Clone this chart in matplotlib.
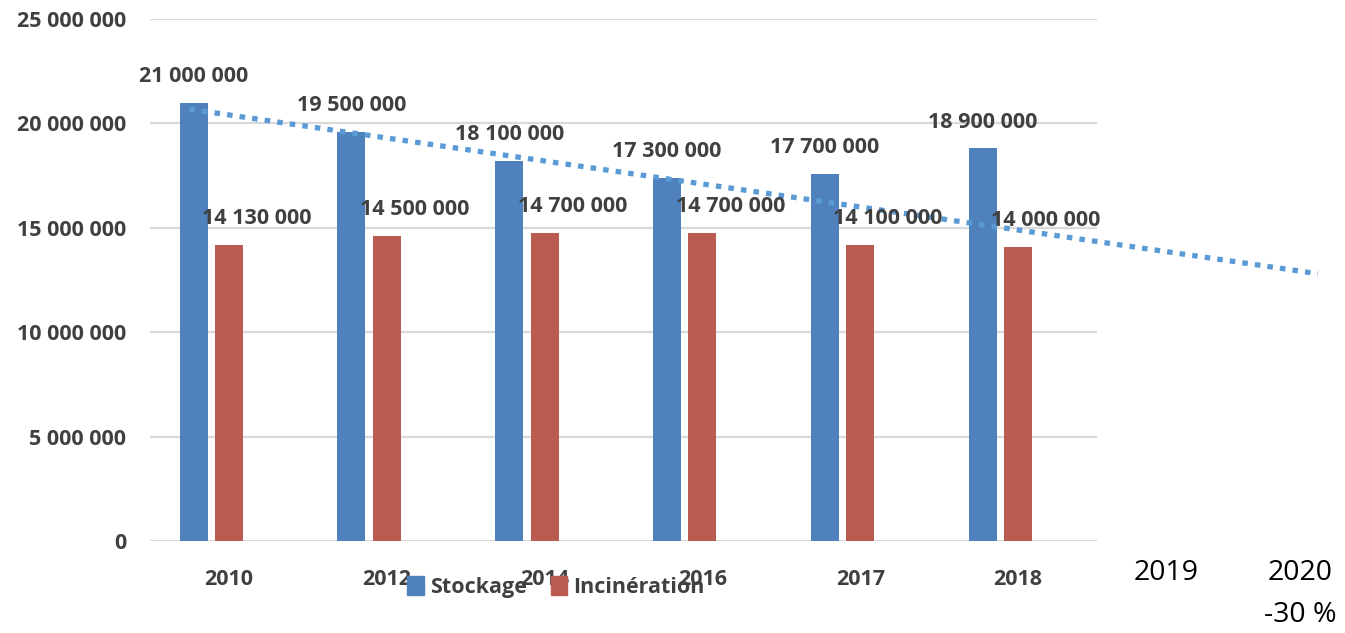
#!/usr/bin/env python3

import matplotlib
matplotlib.use("Agg")
import matplotlib.pyplot as plt
from matplotlib.patches import Patch

# ─── Data ──────────────────────────────────────────────────────────────────────
YEARS = ["2010", "2012", "2014", "2016", "2017", "2018"]

# bar heights
STOCKAGE     = [21_000_000, 19_600_000, 18_200_000, 17_400_000, 17_600_000, 18_800_000]
INCINERATION = [14_200_000, 14_600_000, 14_750_000, 14_750_000, 14_200_000, 14_100_000]

# data labels as printed on the chart
STOCKAGE_LABELS     = ["21 000 000", "19 500 000", "18 100 000",
                       "17 300 000", "17 700 000", "18 900 000"]
INCINERATION_LABELS = ["14 130 000", "14 500 000", "14 700 000",
                       "14 700 000", "14 100 000", "14 000 000"]

# dotted trend line (category index, value)
TREND_X = [-0.25, 6.9]
TREND_Y = [20_680_000, 12_800_000]

Y_TICKS = [0, 5_000_000, 10_000_000, 15_000_000, 20_000_000, 25_000_000]

# ─── Style ─────────────────────────────────────────────────────────────────────
BLUE  = "#4F81BD"
RED   = "#B95B50"
TREND = "#5B9BD5"
GREY  = "#404040"
GRID  = "#D9D9D9"
FONT  = ["Open Sans", "DejaVu Sans"]

plt.rcParams["font.family"] = FONT

W, H = 1345, 633
fig = plt.figure(figsize=(W / 100, H / 100), dpi=100)
ax = fig.add_axes([150 / W, 1 - 541 / H, (1097 - 150) / W, (541 - 19) / H])

x = list(range(len(YEARS)))
bw = 0.178
xs = [i - 0.224 for i in x]
xi = [i + 0.0 for i in x]

ax.bar(xs, STOCKAGE, width=bw, color=BLUE, zorder=3)
ax.bar(xi, INCINERATION, width=bw, color=RED, zorder=3)

lbl = dict(ha="center", va="center", fontsize=15.5, fontweight="bold",
           color=GREY, textcoords="offset points", zorder=5)
for px, v, t in zip(xs, STOCKAGE, STOCKAGE_LABELS):
    ax.annotate(t, (px, v), xytext=(0, 19), **lbl)
for px, v, t in zip(xi, INCINERATION, INCINERATION_LABELS):
    ax.annotate(t, (px, v), xytext=(20, 19), **lbl)

# trend line, runs past the plot area
ax.plot(TREND_X, TREND_Y, color=TREND, lw=3.8, dashes=(1.05, 1.35),
        solid_capstyle="butt", dash_capstyle="butt", clip_on=False, zorder=4)

ax.set_xlim(-0.5, 5.5)
ax.set_ylim(0, 25_000_000)
ax.set_yticks(Y_TICKS)
ax.set_yticklabels([f"{v:,}".replace(",", " ") for v in Y_TICKS])
ax.set_xticks(x)
ax.set_xticklabels(YEARS)
ax.yaxis.grid(True, color=GRID, lw=1.6, zorder=0)
ax.set_axisbelow(True)
for s in ax.spines.values():
    s.set_visible(False)
ax.tick_params(axis="y", length=0, pad=17, labelsize=15.5, labelcolor=GREY)
ax.tick_params(axis="x", length=0, pad=20, labelsize=15.5, labelcolor=GREY)
for t in ax.get_xticklabels() + ax.get_yticklabels():
    t.set_fontweight("bold")

# legend sits over the tick labels
handles = [Patch(color=BLUE, label="Stockage"), Patch(color=RED, label="Incinération")]
leg = fig.legend(handles=handles, loc="center", bbox_to_anchor=(556 / W, 1 - 587 / H),
                 ncol=2, frameon=False, handlelength=0.75, handleheight=0.95,
                 handletextpad=0.3, columnspacing=1.1, borderpad=0,
                 prop=dict(family=FONT, size=15.5, weight="bold"))
for t in leg.get_texts():
    t.set_color(GREY)

# extra years written to the right of the chart
big = dict(ha="center", va="center", fontsize=20.5, color="black")
fig.text(1166 / W, 1 - 573 / H, "2019", **big)
fig.text(1300 / W, 1 - 573 / H, "2020", **big)
fig.text(1300 / W, 1 - 615 / H, "-30 %", **big)

fig.savefig("out.png", dpi=100, facecolor="white")
